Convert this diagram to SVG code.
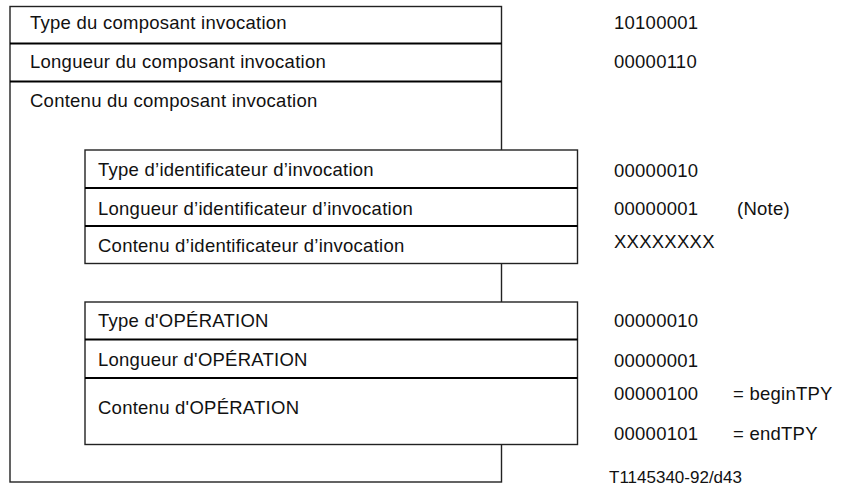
<svg xmlns="http://www.w3.org/2000/svg" width="843" height="488" viewBox="0 0 843 488">
<style>
  text { font-family: "Liberation Sans", Arial, sans-serif; font-size: 18.5px; letter-spacing: 0.25px; fill: #111; }
  .box { fill: #fff; stroke: #222; stroke-width: 1.4; }
  .sep { stroke: #000; stroke-width: 2; }
  .ref { font-size: 17px; letter-spacing: 0; }
</style>
<rect width="843" height="488" fill="#fff"/>
<g id="composant">
  <rect class="box" x="10" y="6.5" width="491.5" height="475.5"/>
  <line class="sep" x1="10" y1="43.5" x2="501.5" y2="43.5"/>
  <line class="sep" x1="10" y1="81.5" x2="501.5" y2="81.5"/>
  <text x="30" y="29">Type du composant invocation</text>
  <text x="30" y="67.5">Longueur du composant invocation</text>
  <text x="30" y="107">Contenu du composant invocation</text>
</g>
<g id="identificateur">
  <rect class="box" x="85" y="150" width="492.5" height="113.5"/>
  <line class="sep" x1="85" y1="188" x2="577.5" y2="188"/>
  <line class="sep" x1="85" y1="226" x2="577.5" y2="226"/>
  <text x="98" y="176">Type d’identificateur d’invocation</text>
  <text x="98" y="214.5">Longueur d’identificateur d’invocation</text>
  <text x="98" y="252">Contenu d’identificateur d’invocation</text>
</g>
<g id="operation">
  <rect class="box" x="85" y="302" width="492.5" height="142.5"/>
  <line class="sep" x1="85" y1="339.5" x2="577.5" y2="339.5"/>
  <line class="sep" x1="85" y1="378" x2="577.5" y2="378"/>
  <text x="98" y="327">Type d'OPÉRATION</text>
  <text x="98" y="365.5">Longueur d'OPÉRATION</text>
  <text x="98" y="414">Contenu d'OPÉRATION</text>
</g>
<g id="valeurs">
  <text x="614" y="29">10100001</text>
  <text x="614" y="67.5">00000110</text>
  <text x="614" y="176.5">00000010</text>
  <text x="614" y="215">00000001</text>
  <text x="737" y="215">(Note)</text>
  <text x="614" y="248">XXXXXXXX</text>
  <text x="614" y="327">00000010</text>
  <text x="614" y="366.5">00000001</text>
  <text x="614" y="400">00000100</text>
  <text x="733" y="400">= beginTPY</text>
  <text x="614" y="439.5">00000101</text>
  <text x="733" y="439.5">= endTPY</text>
  <text class="ref" x="609" y="483">T1145340-92/d43</text>
</g>
<g id="connectors"/>
</svg>
